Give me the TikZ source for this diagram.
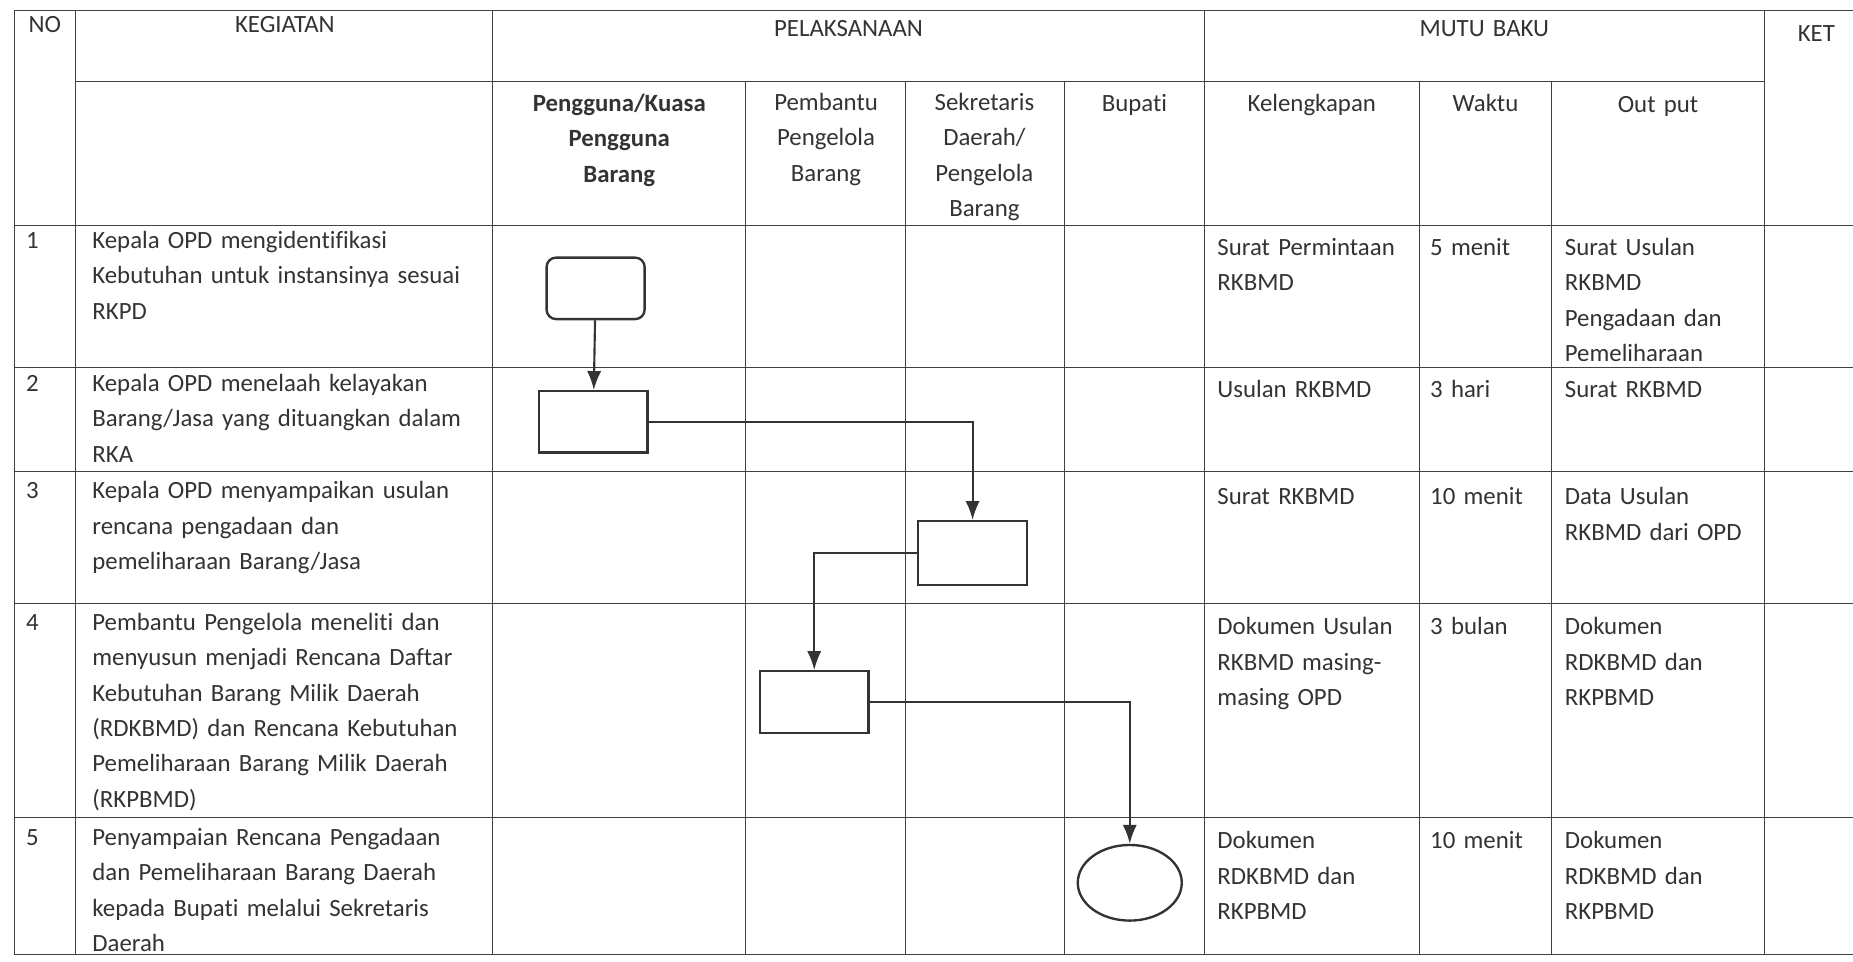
\documentclass[tikz,border=0pt]{standalone}
\usepackage{fontspec}
\setmainfont{Carlito}[Ligatures=NoCommon]
\usetikzlibrary{arrows.meta,shapes.geometric}

\tikzset{
  celltext/.style={font=\fontsize{21}{30}\selectfont, text=black!80, inner sep=0pt, execute at begin node=\strut},
  lefttext/.style={celltext, anchor=north west, align=left, text width=#1},
  lefttext/.default=330pt,
  headtext/.style={celltext, anchor=north, align=center, text width=#1},
  headtext/.default=150pt,
  tabline/.style={black!75, line width=0.8pt},
  box/.style={draw=black!80, line width=2pt, minimum width=92pt, minimum height=52pt, inner sep=0pt},
  flowarrow/.style={draw=black!80, line width=1.8pt, -{Latex[length=16pt,width=12pt]}}
}

\begin{document}
\begin{tikzpicture}[x=1pt,y=-1pt]

\useasboundingbox (0,0) rectangle (1568,814);

%table lines
\draw[tabline] (12,9) -- (1568,9);
\draw[tabline] (64,69) -- (1493,69);
\foreach \y in {191,311,399,511,692,808} {
  \draw[tabline] (12,\y) -- (1568,\y);
}
\foreach \x in {12,64,417,1019,1493} {
  \draw[tabline] (\x,9) -- (\x,808);
}
\foreach \x in {631,766,901,1201,1313} {
  \draw[tabline] (\x,69) -- (\x,808);
}

%header
\node[headtext] (no) at (38,6) {NO};
\node[headtext] (kegiatan) at (241,6) {KEGIATAN};
\node[headtext] (pelaksanaan) at (718,10) {PELAKSANAAN};
\node[headtext] (mutubaku) at (1256,10) {MUTU BAKU};
\node[headtext] (ket) at (1537,14) {KET};
%sub header
\node[headtext=200pt, font=\fontsize{21}{30}\selectfont\bfseries] (pengguna) at (524,73) {Pengguna/Kuasa\\Pengguna\\Barang};
\node[headtext] (pembantu) at (699,72) {Pembantu\\Pengelola\\Barang};
\node[headtext] (sekda) at (833,72) {Sekretaris\\Daerah/\\Pengelola\\Barang};
\node[headtext] (bupati) at (960,73) {Bupati};
\node[headtext] (kelengkapan) at (1110,73) {Kelengkapan};
\node[headtext] (waktu) at (1257,73) {Waktu};
\node[headtext] (output) at (1403,74) {Out put};

%row 1
\node[lefttext=30pt] (num1) at (22,189) {1};
\node[lefttext] (keg1) at (78,189) {Kepala OPD mengidentifikasi\\Kebutuhan untuk instansinya sesuai\\RKPD};
\node[lefttext=165pt] (kel1) at (1030,195) {Surat Permintaan\\RKBMD};
\node[lefttext=100pt] (wkt1) at (1210,195) {5 menit};
\node[lefttext=165pt] (out1) at (1324,195) {Surat Usulan\\RKBMD\\Pengadaan dan\\Pemeliharaan};
%row 2
\node[lefttext=30pt] (num2) at (22,310) {2};
\node[lefttext] (keg2) at (78,310) {Kepala OPD menelaah kelayakan\\Barang/Jasa yang dituangkan dalam\\RKA};
\node[lefttext=165pt] (kel2) at (1030,315) {Usulan RKBMD};
\node[lefttext=100pt] (wkt2) at (1210,315) {3 hari};
\node[lefttext=165pt] (out2) at (1324,315) {Surat RKBMD};
%row 3
\node[lefttext=30pt] (num3) at (22,401) {3};
\node[lefttext] (keg3) at (78,401) {Kepala OPD menyampaikan usulan\\rencana pengadaan dan\\pemeliharaan Barang/Jasa};
\node[lefttext=165pt] (kel3) at (1030,406) {Surat RKBMD};
\node[lefttext=100pt] (wkt3) at (1210,406) {10 menit};
\node[lefttext=165pt] (out3) at (1324,406) {Data Usulan\\RKBMD dari OPD};
%row 4
\node[lefttext=30pt] (num4) at (22,512) {4};
\node[lefttext] (keg4) at (78,512) {Pembantu Pengelola meneliti dan\\menyusun menjadi Rencana Daftar\\Kebutuhan Barang Milik Daerah\\(RDKBMD) dan Rencana Kebutuhan\\Pemeliharaan Barang Milik Daerah\\(RKPBMD)};
\node[lefttext=165pt] (kel4) at (1030,516) {Dokumen Usulan\\RKBMD masing-\\masing OPD};
\node[lefttext=100pt] (wkt4) at (1210,516) {3 bulan};
\node[lefttext=165pt] (out4) at (1324,516) {Dokumen\\RDKBMD dan\\RKPBMD};
%row 5
\node[lefttext=30pt] (num5) at (22,694) {5};
\node[lefttext] (keg5) at (78,694) {Penyampaian Rencana Pengadaan\\dan Pemeliharaan Barang Daerah\\kepada Bupati melalui Sekretaris\\Daerah};
\node[lefttext=165pt] (kel5) at (1030,697) {Dokumen\\RDKBMD dan\\RKPBMD};
\node[lefttext=100pt] (wkt5) at (1210,697) {10 menit};
\node[lefttext=165pt] (out5) at (1324,697) {Dokumen\\RDKBMD dan\\RKPBMD};

%flow shapes
\node[box, rounded corners=8pt, minimum width=83pt] (mulai) at (504,244) {};
\node[box] (telaah) at (502,357) {};
\node[box, minimum height=54pt] (usulan) at (823,468) {};
\node[box] (susun) at (689,594) {};
\node[box, ellipse, minimum width=88pt, minimum height=64pt] (serah) at (956,747) {};

%flow arrows
\draw[flowarrow] (mulai) -- (telaah);
\draw[flowarrow] (telaah.east) -| (usulan.north);
\draw[flowarrow] (usulan.west) -| (susun.north);
\draw[flowarrow] (susun.east) -| (serah.north);

\end{tikzpicture}
\end{document}
